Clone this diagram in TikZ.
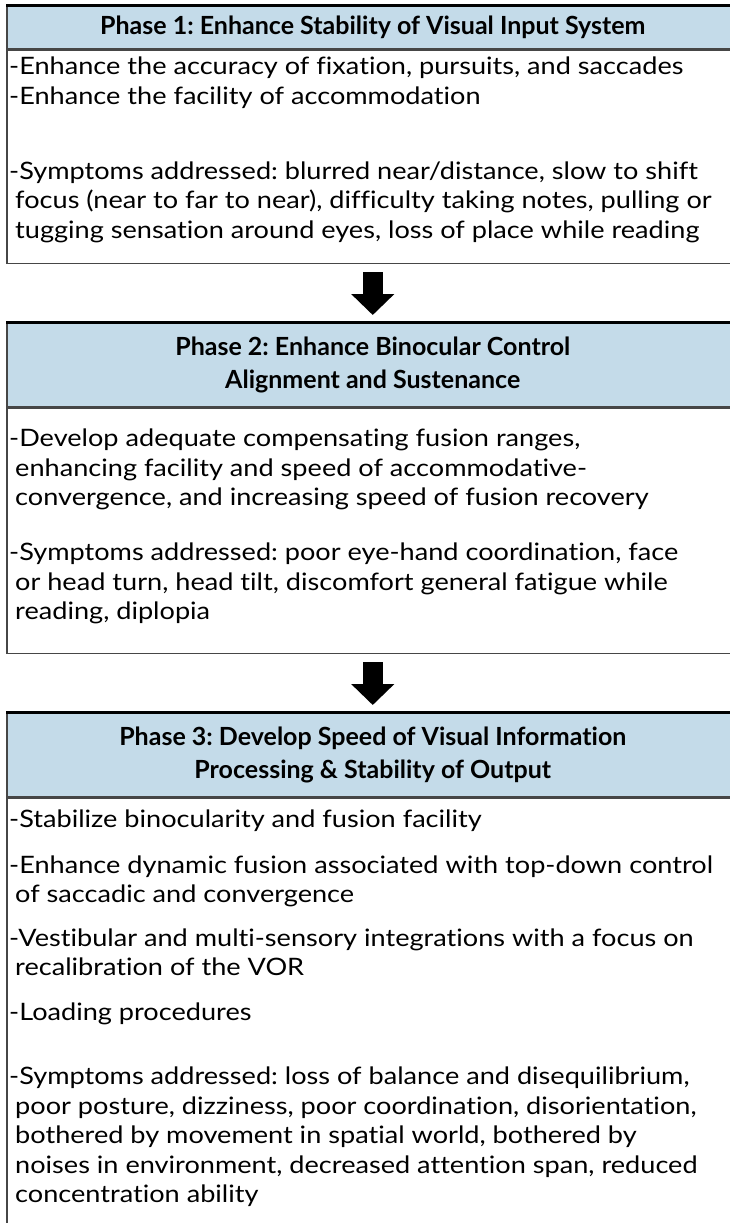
\documentclass[tikz,border=0pt]{standalone}
\usepackage{fontspec}
\setmainfont{Lato}[FakeStretch=1.13, Ligatures=NoCommon]
\newfontfamily\headfont{Lato}[Ligatures=NoCommon]
\usetikzlibrary{positioning,arrows.meta}
\definecolor{headblue}{RGB}{196,219,233}
\definecolor{rimgray}{RGB}{70,70,70}
\newcommand{\firstline}{\rule{0pt}{20pt}}
\newcommand{\ind}{\hspace*{6pt}}
\frenchspacing

\begin{document}
\begin{tikzpicture}[
			x=1pt, y=1pt,
			node distance={58pt},
			head/.style = {draw=rimgray, line width=1.5pt, fill=headblue, minimum width=732pt, inner sep=0pt, align=center, font=\headfont\fontsize{25}{33}\selectfont\bfseries},
			body/.style = {draw=rimgray, line width=1.5pt, minimum width=732pt, inner sep=0pt},
			txt/.style = {anchor=north west, inner sep=0pt, align=left, font=\fontsize{24}{29.5}\selectfont},
			topline/.style = {line width=3pt},
			down/.style = {line width=20pt, -{Triangle[width=42pt,length=21pt]}, shorten <=8pt, shorten >=7pt}
		]
		\useasboundingbox (0,0) rectangle (730,-1223);
		\clip (0,0) rectangle (730,-1223);
		% phase 1
		\node[head, minimum height=42pt, anchor=north west] (p1) at (6,-6) {Phase 1: Enhance Stability of Visual Input System};
		\node[body, minimum height=213pt, below=0pt of p1] (b1) {};
		\node[txt] (t1) at ([shift={(3,-5)}]b1.north west) {\firstline-Enhance the accuracy of fixation, pursuits, and saccades\\
			-Enhance the facility of accommodation\\[45.5pt]
			-Symptoms addressed: blurred near/distance, slow to shift\\
			\ind focus (near to far to near), difficulty taking notes, pulling or\\
			\ind tugging sensation around eyes, loss of place while reading};
		% phase 2
		\node[head, minimum height=84pt, below=of b1] (p2) {Phase 2: Enhance Binocular Control\\Alignment and Sustenance};
		\node[body, minimum height=245pt, below=0pt of p2] (b2) {};
		\node[txt] (t2) at ([shift={(3,-19)}]b2.north west) {\firstline-Develop adequate compensating fusion ranges,\\
			\ind enhancing facility and speed of accommodative-\\
			\ind convergence, and increasing speed of fusion recovery\\[25.5pt]
			-Symptoms addressed: poor eye-hand coordination, face\\
			\ind or head turn, head tilt, discomfort general fatigue while\\
			\ind reading, diplopia};
		% phase 3
		\node[head, minimum height=84pt, below=of b2] (p3) {Phase 3: Develop Speed of Visual Information\\Processing \& Stability of Output};
		\node[body, minimum height=470pt, below=0pt of p3] (b3) {};
		\node[txt] (t3) at ([shift={(3,-10)}]b3.north west) {\firstline-Stabilize binocularity and fusion facility\\[16pt]
			-Enhance dynamic fusion associated with top-down control\\
			\ind of saccadic and convergence\\[14pt]
			-Vestibular and multi-sensory integrations with a focus on\\
			\ind recalibration of the VOR\\[15pt]
			-Loading procedures\\[35pt]
			-Symptoms addressed: loss of balance and disequilibrium,\\
			\ind poor posture, dizziness, poor coordination, disorientation,\\
			\ind bothered by movement in spatial world, bothered by\\
			\ind noises in environment, decreased attention span, reduced\\
			\ind concentration ability};
		% heavy top edges
		\draw[topline] (p1.north west) -- (p1.north east);
		\draw[topline] (p2.north west) -- (p2.north east);
		\draw[topline] (p3.north west) -- (p3.north east);
		% arrows
		\draw[down] (b1) -- (p2);
		\draw[down] (b2) -- (p3);
	\end{tikzpicture}
\end{document}
